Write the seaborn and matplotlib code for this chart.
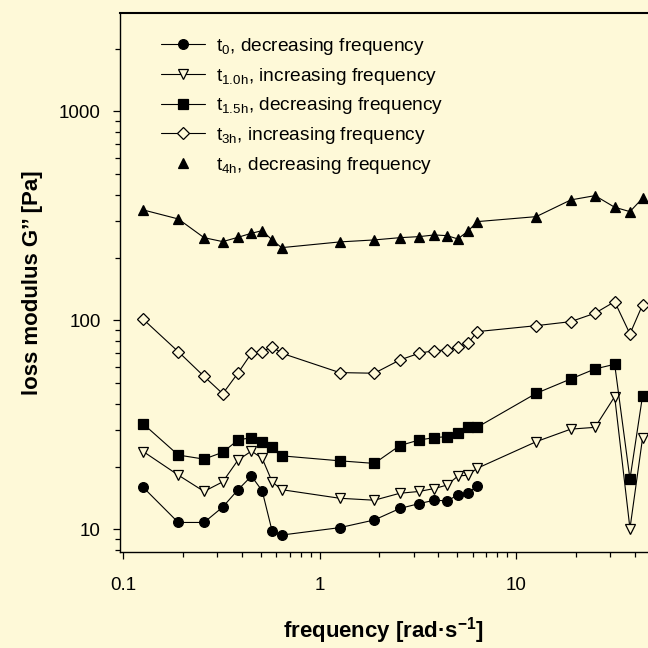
import numpy as np
import pandas as pd
import matplotlib
matplotlib.use("Agg")
import matplotlib.pyplot as plt
from matplotlib.lines import Line2D
from matplotlib.ticker import FixedLocator, FixedFormatter, LogLocator, NullFormatter
import seaborn as sns

# angular frequency grid [rad/s]
freq = [0.126, 0.19, 0.257, 0.32, 0.383, 0.448, 0.508, 0.571, 0.638,
        1.26, 1.89, 2.55, 3.2, 3.82, 4.43, 5.03, 5.68, 6.3,
        12.6, 18.9, 25.1, 31.6, 37.8, 43.8]

# loss modulus G'' [Pa]
g_t0 = [15.9, 10.8, 10.8, 12.8, 15.5, 18.0, 15.3, 9.8, 9.4,
        10.2, 11.1, 12.6, 13.3, 13.8, 13.7, 14.6, 15.0, 16.1]
g_t1h = [23.6, 18.2, 15.2, 16.9, 21.5, 23.7, 21.9, 16.9, 15.5,
         14.1, 13.8, 14.9, 15.2, 15.7, 16.3, 18.0, 18.2, 19.6,
         26.3, 30.2, 30.8, 43.2, 10.1, 27.3]
g_t15h = [32.0, 22.7, 21.7, 23.4, 26.8, 27.5, 26.1, 24.9, 22.5,
          21.3, 20.7, 25.2, 26.8, 27.5, 27.8, 28.9, 31.0, 30.8,
          44.8, 52.5, 58.6, 61.7, 17.4, 43.5]
g_t3h = [101.3, 70.9, 54.0, 44.6, 56.1, 69.7, 70.9, 74.9, 69.7,
         56.3, 55.9, 64.7, 69.7, 71.7, 72.2, 74.9, 77.8, 88.4,
         94.4, 98.7, 108.3, 123.0, 86.2, 118.7]
g_t4h = [337.9, 305.9, 248.9, 238.3, 250.0, 261.3, 268.9, 242.8, 223.0,
         237.5, 242.8, 248.9, 251.8, 256.5, 254.5, 245.5, 268.0, 297.0,
         313.8, 377.3, 395.5, 348.0, 331.6, 384.4]

labels = [
    r"t$_{\mathrm{0}}$, decreasing frequency",
    r"t$_{\mathrm{1.0h}}$, increasing frequency",
    r"t$_{\mathrm{1.5h}}$, decreasing frequency",
    r"t$_{\mathrm{3h}}$, increasing frequency",
    r"t$_{\mathrm{4h}}$, decreasing frequency",
]

BG = "#fef9d8"

sns.set_theme(style="ticks")
plt.rcParams.update({
    "font.family": ["Liberation Sans", "DejaVu Sans"],
    "mathtext.fontset": "custom",
    "mathtext.rm": "Liberation Sans",
    "mathtext.it": "Liberation Sans:italic",
    "mathtext.bf": "Liberation Sans:bold",
    "axes.facecolor": BG,
    "figure.facecolor": BG,
    "axes.edgecolor": "black",
    "axes.linewidth": 1.0,
    "text.color": "black",
    "axes.labelcolor": "black",
    "xtick.color": "black",
    "ytick.color": "black",
})

fig = plt.figure(figsize=(6.48, 6.48), dpi=100)
W = H = 648.0
ax = fig.add_axes([120 / W, (H - 552) / H, (W - 120) / W, (552 - 13) / H])

series = [
    (freq[:len(g_t0)], g_t0, dict(marker="o", ms=7, mfc="black")),
    (freq, g_t1h, dict(marker="v", ms=7.5, mfc=BG)),
    (freq, g_t15h, dict(marker="s", ms=6.5, mfc="black")),
    (freq, g_t3h, dict(marker="D", ms=6.5, mfc=BG)),
    (freq, g_t4h, dict(marker="^", ms=7.5, mfc="black")),
]

for (x, y, st), lab in zip(series, labels):
    df = pd.DataFrame({"frequency": x, "G2": y})
    sns.lineplot(data=df, x="frequency", y="G2", ax=ax, color="black",
                 lw=0.8, marker=st["marker"], markersize=st["ms"],
                 markerfacecolor=st["mfc"], markeredgecolor="black",
                 markeredgewidth=0.9, legend=False)

ax.set_xscale("log")
ax.set_yscale("log")
ax.set_xlim(0.096, 46.7)
ax.set_ylim(7.8, 2958)

ax.xaxis.set_major_locator(FixedLocator([0.1, 1, 10]))
ax.xaxis.set_major_formatter(FixedFormatter(["0.1", "1", "10"]))
ax.xaxis.set_minor_locator(LogLocator(base=10, subs=np.arange(2, 10)))
ax.xaxis.set_minor_formatter(NullFormatter())
ax.yaxis.set_major_locator(FixedLocator([10, 100, 1000]))
ax.yaxis.set_major_formatter(FixedFormatter(["10", "100", "1000"]))
ax.yaxis.set_minor_locator(LogLocator(base=10, subs=np.arange(2, 10)))
ax.yaxis.set_minor_formatter(NullFormatter())

ax.tick_params(which="major", direction="out", length=5, width=0.9,
               labelsize=13.5, color="black", labelcolor="black")
ax.tick_params(axis="x", which="major", pad=13)
ax.tick_params(axis="y", which="major", pad=9)
ax.tick_params(which="minor", direction="out", length=3.5, width=0.9,
               color="black")
ax.tick_params(top=False, right=False, which="both")

ax.spines["right"].set_visible(False)
ax.spines["top"].set_linewidth(1.5)

ax.set_xlabel(r"frequency [rad·s$^{\mathbf{-1}}$]", fontsize=16,
              fontweight="bold", labelpad=15)
ax.set_ylabel("loss modulus G’’ [Pa]", fontsize=16, fontweight="bold",
              labelpad=11)

handles = []
for i, ((x, y, st), lab) in enumerate(zip(series, labels)):
    ls = "none" if i == 4 else "-"
    handles.append(Line2D([], [], color="black", lw=0.8, ls=ls,
                          marker=st["marker"], markersize=st["ms"],
                          markerfacecolor=st["mfc"], markeredgecolor="black",
                          markeredgewidth=0.9, label=lab))
fig.legend(handles=handles, loc="upper left",
           bbox_to_anchor=(161 / W, 1 - 36 / H), frameon=False,
           fontsize=13.8, handlelength=2.3, handletextpad=0.55,
           labelspacing=0.45, borderpad=0, borderaxespad=0)

fig.savefig("out.png", dpi=100, facecolor=BG)
